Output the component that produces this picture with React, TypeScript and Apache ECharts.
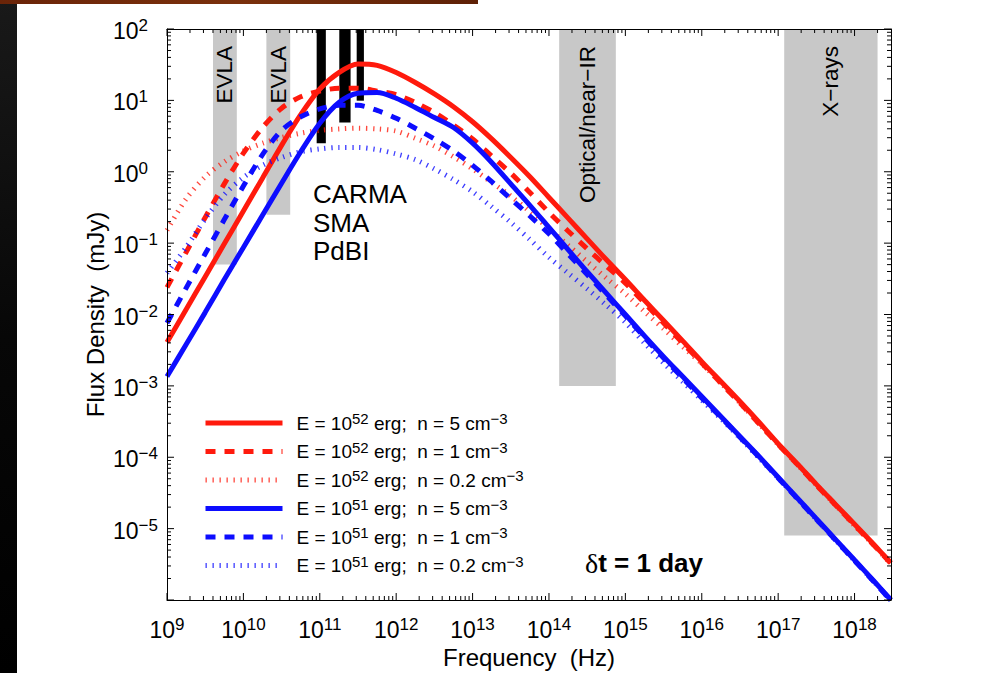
import React, { useEffect, useRef } from "react";
import * as echarts from "echarts";

// ---- data (log10 of frequency in Hz, log10 of flux density in mJy) ----
const logFreq = [
  9, 9.25, 9.5, 9.75, 10, 10.25, 10.5, 10.75, 11, 11.25, 11.5, 11.75, 12, 12.25, 12.5, 12.75, 13,
  13.25, 13.5, 13.75, 14, 14.25, 14.5, 14.75, 15, 15.25, 15.5, 15.75, 16, 16.25, 16.5, 16.75, 17,
  17.25, 17.5, 17.75, 18, 18.25, 18.477,
];

const fluxE52n5 = [
  -2.39, -1.93, -1.47, -1.01, -0.55, -0.09, 0.37, 0.8, 1.16, 1.39, 1.51, 1.49, 1.39, 1.25, 1.09, 0.91, 0.7,
  0.46, 0.2, -0.07, -0.36, -0.65, -0.94, -1.23, -1.51, -1.8, -2.085, -2.37, -2.66, -2.94, -3.22, -3.51, -3.81,
  -4.09, -4.38, -4.66, -4.94, -5.22, -5.48,
];
const fluxE52n1 = [
  -1.62, -1.13, -0.64, -0.17, 0.26, 0.62, 0.89, 1.05, 1.13, 1.17, 1.17, 1.13, 1.08, 0.97, 0.83, 0.655, 0.46,
  0.22, -0.02, -0.29, -0.57, -0.83, -1.08, -1.32, -1.56, -1.84, -2.12, -2.4, -2.68, -2.96, -3.24, -3.53, -3.82,
  -4.1, -4.39, -4.67, -4.95, -5.23, -5.49,
];
const fluxE52n02 = [
  -0.82, -0.38, -0.07, 0.14, 0.29, 0.4, 0.48, 0.54, 0.58, 0.6, 0.61, 0.6, 0.57, 0.47, 0.36, 0.21, 0.04,
  -0.15, -0.34, -0.56, -0.8, -1.03, -1.26, -1.49, -1.71, -1.96, -2.2, -2.45, -2.69, -2.96, -3.24, -3.53, -3.82,
  -4.1, -4.39, -4.67, -4.96, -5.23, -5.5,
];
const fluxE51n5 = [
  -2.87, -2.42, -1.97, -1.51, -1.06, -0.61, -0.16, 0.28, 0.68, 0.97, 1.1, 1.11, 1.03, 0.9, 0.76, 0.62, 0.4,
  0.13, -0.17, -0.47, -0.78, -1.09, -1.4, -1.7, -2.0, -2.3, -2.59, -2.87, -3.15, -3.43, -3.71, -3.99, -4.28,
  -4.57, -4.86, -5.15, -5.44, -5.73, -6.0,
];
const fluxE51n1 = [
  -2.12, -1.63, -1.15, -0.67, -0.2, 0.24, 0.58, 0.77, 0.88, 0.93, 0.93, 0.86, 0.75, 0.61, 0.46, 0.29, 0.09,
  -0.14, -0.38, -0.62, -0.87, -1.15, -1.44, -1.73, -2.02, -2.32, -2.61, -2.89, -3.17, -3.44, -3.72, -4.0, -4.29,
  -4.58, -4.87, -5.16, -5.45, -5.74, -6.01,
];
const fluxE51n02 = [
  -1.42, -1.06, -0.66, -0.32, -0.08, 0.09, 0.2, 0.28, 0.32, 0.34, 0.34, 0.31, 0.25, 0.17, 0.04, -0.11, -0.28,
  -0.49, -0.71, -0.95, -1.2, -1.42, -1.64, -1.87, -2.11, -2.4, -2.68, -2.94, -3.2, -3.46, -3.73, -4.01, -4.29,
  -4.58, -4.87, -5.16, -5.45, -5.74, -6.01,
];

const seriesNames = [
  "E = 10^52 erg;  n = 5 cm^-3",
  "E = 10^52 erg;  n = 1 cm^-3",
  "E = 10^52 erg;  n = 0.2 cm^-3",
  "E = 10^51 erg;  n = 5 cm^-3",
  "E = 10^51 erg;  n = 1 cm^-3",
  "E = 10^51 erg;  n = 0.2 cm^-3",
];

// observing bands (Hz, lower edge in mJy)
const bandLoHz = [4.0e9, 2.0e10, 9.1e10, 1.8e11, 3.04e11, 1.36e14, 1.2e17];
const bandHiHz = [8.2e9, 4.1e10, 1.2e11, 2.53e11, 3.78e11, 7.5e14, 2.0e18];
const bandFloorMJy = [0.05, 0.25, 2.5, 4.9, 9.9, 1e-3, 8e-6];
const bandLabels = ["EVLA", "EVLA", "", "", "", "Optical/near\u2212IR", "X\u2212rays"];
const bandDark = [false, false, true, true, true, false, false];

const xTickExps = [9, 10, 11, 12, 13, 14, 15, 16, 17, 18];
const yTickExps = [-6, -5, -4, -3, -2, -1, 0, 1, 2];
const minorMultipliers = [2, 3, 4, 5, 6, 7, 8, 9];

const X_MIN = 9;
const X_MAX = 18.477;
const Y_MIN = -6;
const Y_MAX = 2;

const FONT = '"Liberation Sans", Arial, Helvetica, sans-serif';
const RED = "#ff1a0d";
const BLUE = "#0d0dff";

const colors = [RED, RED, RED, BLUE, BLUE, BLUE];
const dashes: any[] = ["solid", [10, 9], [1.3, 5.7], "solid", [10, 9], [1.3, 5.7]];
const opac = [1, 1, 0.8, 1, 1, 0.8];
const fluxes = [fluxE52n5, fluxE52n1, fluxE52n02, fluxE51n5, fluxE51n1, fluxE51n02];

function toRich(name: string) {
  const parts = name.split(/\^(-?\d+)/);
  return (
    "{g| }" +
    parts
      .map((p, i) => (p === "" ? "" : i % 2 ? `{s|${p.replace("-", "\u2212")}}` : `{t|${p}}`))
      .join("")
  );
}

function expLabel(v: number, lo: number, hi: number) {
  const r = Math.round(v);
  if (Math.abs(v - r) > 1e-6 || r < lo || r > hi) return "";
  return `{b|10}{s|${String(r).replace("-", "\u2212")}}`;
}

const tickRich = {
  b: { fontSize: 23, lineHeight: 24, padding: [4, 0, 0, 0], fontFamily: FONT, color: "#000" },
  s: { fontSize: 17, lineHeight: 11, verticalAlign: "top", fontFamily: FONT, color: "#000" },
};

const axisLineStyle = { show: true, onZero: false, lineStyle: { color: "#000", width: 1 } };

export default function App() {
  const ref = useRef<HTMLDivElement>(null);

  useEffect(() => {
    if (!ref.current) return;
    const chart = echarts.init(ref.current, undefined, { renderer: "svg" });

    const tickData: number[][] = [];
    xTickExps.forEach((e) => {
      tickData.push([e, Y_MIN, 0]);
      minorMultipliers.forEach((m) => {
        const v = e + Math.log10(m);
        if (v < X_MAX) tickData.push([v, Y_MIN, 1]);
      });
    });
    yTickExps.forEach((e) => {
      tickData.push([X_MIN, e, 2]);
      minorMultipliers.forEach((m) => {
        const v = e + Math.log10(m);
        if (v < Y_MAX) tickData.push([X_MIN, v, 3]);
      });
    });

    const bandData = bandLoHz.map((lo, i) => [
      Math.log10(lo),
      Math.log10(bandHiHz[i]),
      Math.log10(bandFloorMJy[i]),
      i,
    ]);

    const lineSeries = seriesNames.map((name, k) => ({
      type: "line",
      name,
      data: logFreq.map((x, i) => [x, fluxes[k][i]]),
      symbol: "none",
      showSymbol: false,
      smooth: 0.3,
      z: 3,
      lineStyle: { color: colors[k], width: 5, type: dashes[k], cap: "butt", opacity: opac[k] },
      itemStyle: { color: colors[k] },
    }));

    chart.setOption({
      animation: false,
      backgroundColor: "#ffffff",
      textStyle: { fontFamily: FONT },
      grid: { left: 167, top: 29, width: 724, height: 571, show: false, outerBoundsMode: "none", containLabel: false },
      xAxis: [
        {
          type: "value",
          min: X_MIN,
          max: X_MAX,
          interval: 1,
          position: "bottom",
          z: 5,
          axisLine: axisLineStyle,
          axisTick: { show: false },
          splitLine: { show: false },
          axisLabel: {
            margin: 16,
            showMinLabel: true,
            formatter: (v: number) => expLabel(v, 9, 18),
            rich: tickRich,
          },
          name: "Frequency  (Hz)",
          nameLocation: "middle",
          nameGap: 45,
          nameMoveOverlap: false,
          nameTextStyle: { fontSize: 24, fontFamily: FONT, color: "#000" },
        },
        {
          type: "value",
          min: X_MIN,
          max: X_MAX,
          interval: 1,
          position: "top",
          z: 5,
          axisLine: axisLineStyle,
          axisTick: { show: false },
          axisLabel: { show: false },
          splitLine: { show: false },
        },
      ],
      yAxis: [
        {
          type: "value",
          min: Y_MIN,
          max: Y_MAX,
          interval: 1,
          position: "left",
          z: 5,
          axisLine: axisLineStyle,
          axisTick: { show: false },
          splitLine: { show: false },
          axisLabel: {
            margin: 54,
            align: "left",
            formatter: (v: number) => expLabel(v, -5, 2),
            rich: tickRich,
          },
          name: "Flux Density  (mJy)",
          nameLocation: "middle",
          nameGap: 60,
          nameMoveOverlap: false,
          nameTextStyle: { fontSize: 24, fontFamily: FONT, color: "#000" },
        },
        {
          type: "value",
          min: Y_MIN,
          max: Y_MAX,
          interval: 1,
          position: "right",
          z: 5,
          axisLine: axisLineStyle,
          axisTick: { show: false },
          axisLabel: { show: false },
          splitLine: { show: false },
        },
      ],
      legend: {
        orient: "vertical",
        left: 203,
        top: 411,
        padding: 0,
        itemWidth: 77,
        itemHeight: 24,
        itemGap: 6.9,
        selectedMode: false,
        data: seriesNames.map((n, k) => ({
          name: n,
          lineStyle: { width: 5, type: dashes[k], color: colors[k], cap: "butt", opacity: opac[k] },
          itemStyle: { opacity: 0 },
        })),
        formatter: (name: string) => toRich(name),
        textStyle: {
          color: "#000",
          rich: {
            g: { width: 9, fontSize: 19 },
            t: { fontSize: 19, lineHeight: 24, fontFamily: FONT, color: "#000" },
            s: { fontSize: 15, lineHeight: 12, verticalAlign: "top", fontFamily: FONT, color: "#000" },
          },
        },
      },
      graphic: [
        {
          type: "rect",
          left: 0,
          top: 0,
          z: 100,
          shape: { x: 0, y: 0, width: 17, height: 673 },
          style: {
            fill: new echarts.graphic.LinearGradient(0, 0, 0, 1, [
              { offset: 0, color: "#191919" },
              { offset: 0.5, color: "#070707" },
              { offset: 1, color: "#000000" },
            ]),
          },
        },
        {
          type: "rect",
          left: 0,
          top: 0,
          z: 101,
          shape: { x: 0, y: 0, width: 478, height: 4 },
          style: {
            fill: new echarts.graphic.LinearGradient(0, 0, 1, 0, [
              { offset: 0, color: "#6a2408" },
              { offset: 0.5, color: "#7a300c" },
              { offset: 1, color: "#5e2006" },
            ]),
          },
        },
        {
          type: "text",
          x: 313,
          y: 180,
          z: 50,
          style: {
            text: "CARMA\nSMA\nPdBI",
            fontSize: 26,
            lineHeight: 28.5,
            fontFamily: FONT,
            fill: "#000",
            align: "left",
            verticalAlign: "top",
          },
        },
        {
          type: "text",
          x: 585,
          y: 563,
          z: 50,
          style: {
            text: "{d|\u03b4}{b|t = 1 day}",
            align: "left",
            verticalAlign: "middle",
            rich: {
              d: { fontSize: 28, fontFamily: '"Liberation Serif", "Times New Roman", serif', fill: "#000", lineHeight: 30 },
              b: { fontSize: 26, fontWeight: "bold", fontFamily: FONT, fill: "#000", lineHeight: 30 },
            },
          },
        },
      ],
      series: [
        {
          type: "custom",
          name: "bands",
          z: 1,
          silent: true,
          encode: { x: [0, 1], y: 2 },
          data: bandData,
          renderItem: (params: any, api: any) => {
            const i = api.value(3);
            const tl = api.coord([api.value(0), Y_MAX]);
            const br = api.coord([api.value(1), api.value(2)]);
            const children: any[] = [
              {
                type: "rect",
                shape: { x: tl[0], y: tl[1], width: br[0] - tl[0], height: br[1] - tl[1] },
                style: { fill: bandDark[i] ? "#000000" : "#c8c8c8" },
              },
            ];
            if (bandLabels[i]) {
              children.push({
                type: "text",
                x: (tl[0] + br[0]) / 2,
                y: tl[1] + 17,
                rotation: Math.PI / 2,
                style: {
                  text: bandLabels[i],
                  fontSize: 22.5,
                  fontFamily: FONT,
                  fill: "#000",
                  align: "right",
                  verticalAlign: "middle",
                },
              });
            }
            return { type: "group", children };
          },
        },
        ...lineSeries,
        {
          type: "custom",
          name: "ticks",
          z: 6,
          silent: true,
          encode: { x: 0, y: 1 },
          data: tickData,
          renderItem: (params: any, api: any) => {
            const cs = params.coordSys;
            const kind = api.value(2);
            const len = kind % 2 === 0 ? 7 : 4;
            const st = { stroke: "#000", lineWidth: 1 };
            if (kind < 2) {
              const px = api.coord([api.value(0), Y_MIN])[0];
              return {
                type: "group",
                children: [
                  { type: "line", shape: { x1: px, y1: cs.y + cs.height, x2: px, y2: cs.y + cs.height - len }, style: st },
                  { type: "line", shape: { x1: px, y1: cs.y, x2: px, y2: cs.y + len }, style: st },
                ],
              };
            }
            const py = api.coord([X_MIN, api.value(1)])[1];
            return {
              type: "group",
              children: [
                { type: "line", shape: { x1: cs.x, y1: py, x2: cs.x + len, y2: py }, style: st },
                { type: "line", shape: { x1: cs.x + cs.width, y1: py, x2: cs.x + cs.width - len, y2: py }, style: st },
              ],
            };
          },
        },
      ],
    });

    return () => chart.dispose();
  }, []);

  return (
    <div
      ref={ref}
      style={{ position: "fixed", left: 0, top: 0, width: 994, height: 673, background: "#fff" }}
    />
  );
}
